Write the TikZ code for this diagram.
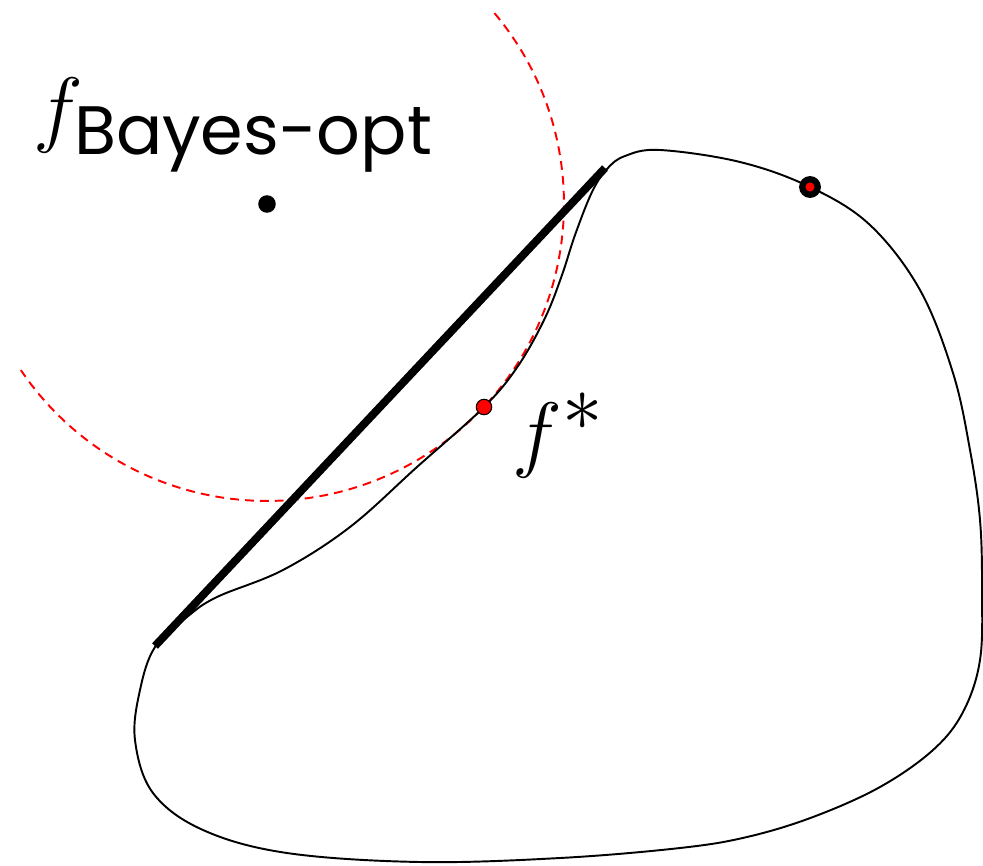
\RequirePackage{fix-cm}
\documentclass[tikz,border=0pt]{standalone}
\usepackage{amsmath}
\usepackage{fontspec}
\setsansfont{Poppins}
\tikzset{
    boundary/.style = {draw = black, line width = 1.1pt},
    ball/.style = {draw = red, line width = 1.1pt, dash pattern = on 5pt off 3.5pt},
    support/.style = {draw = black, line width = 4.5pt},
    bigmath/.style = {anchor = base west, inner sep = 0pt, font = \fontsize{48}{58}\selectfont}
}
\begin{document}
\begin{tikzpicture}[x=0.02cm,y=-0.02cm]
            \useasboundingbox (0,0) rectangle (983,865);
            \coordinate (bayes) at (267,204);
            \coordinate (fstar) at (484,407);
            \coordinate (top) at (810,187);
            \coordinate (lo) at (155,646);
            \coordinate (hi) at (605,168);
            % red ball round the Bayes point
            \draw[ball] (bayes) ++(40:5.94cm) arc[start angle=40, end angle=-146, radius=5.94cm];
            % the set
            \draw[boundary] plot[smooth cycle, tension=0.6] coordinates {
                (607,169) (625,156) (660,150) (740,162) (810,187) (870,225)
                (920,290) (953,373) (970,450) (980,520) (982,590) (980,660)
                (963,712) (933,750) (880,787) (813,817) (747,837) (680,848)
                (560,858) (420,862) (287,853) (203,830) (153,793) (135,740)
                (140,690) (155,647) (187,617) (217,597) (283,570) (350,527)
                (417,467) (484,407) (518,366) (545,318) (562,275) (575,235) (592,192)
            };
            \draw[support] (lo) -- (hi);
            \fill (bayes) circle[radius=5pt];
            \filldraw[fill = red, draw = black, line width = 0.6pt] (fstar) circle[radius=4.4pt];
            \filldraw[fill = red, draw = black, line width = 3.6pt] (top) circle[radius=4.4pt];
            \node[bigmath] (bayeslbl) at (33,136) {$f_{\text{\fontsize{39}{46}\selectfont\sffamily Bayes-opt}}$};
            \node[bigmath] (fstarlbl) at (512,461) {$f^{\text{\fontsize{46}{50}\selectfont$*$}}$};
        \end{tikzpicture}
\end{document}
